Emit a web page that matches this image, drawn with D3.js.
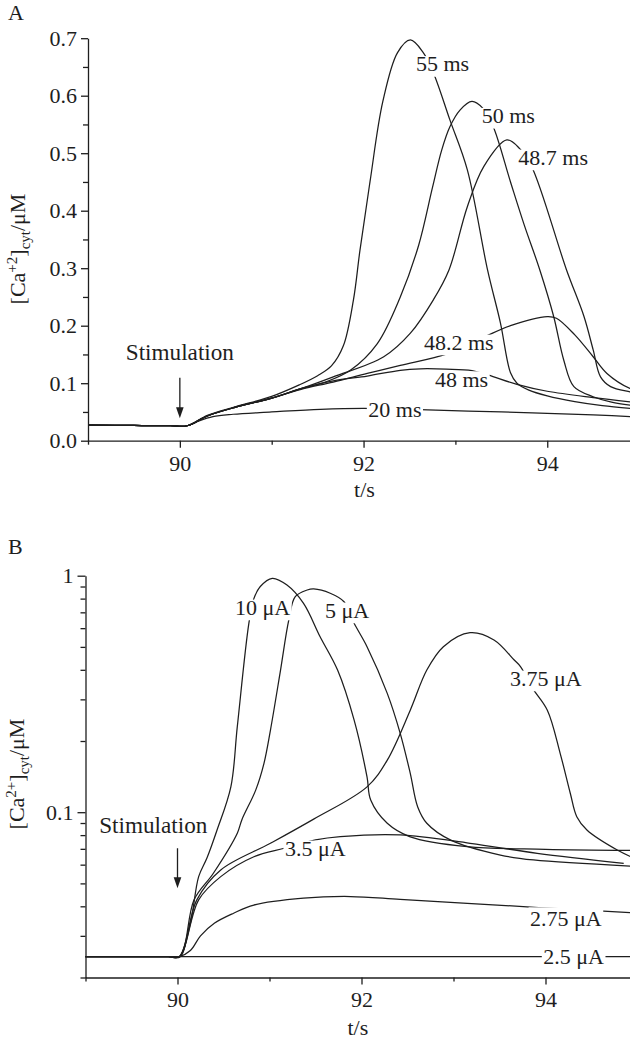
<!DOCTYPE html>
<html><head><meta charset="utf-8">
<script src="https://cdn.jsdelivr.net/npm/d3@7"></script>
<style>
body{margin:0;background:#fff;}
</style></head><body>
<svg id="chart" width="630" height="1043"></svg>
<script>
// ---------- ticks ----------
const timeMajor = [90, 92, 94];
const timeMinor = [89, 91, 93, 95];
const aMajor = [0, 0.1, 0.2, 0.3, 0.4, 0.5, 0.6, 0.7];
const aMinor = [0.05, 0.15, 0.25, 0.35, 0.45, 0.55, 0.65];
const bMajor = [0.1, 1];
const bMinor = [0.02,0.03,0.04,0.05,0.06,0.07,0.08,0.09,0.2,0.3,0.4,0.5,0.6,0.7,0.8,0.9];

// ---------- panel A series: [t (s), Ca (uM)] ----------
const a55 = [[89,0.027],[89.5,0.0265],[89.9,0.026],[90.08,0.026],[90.3,0.044],[90.6,0.059],[91.0,0.077],[91.3,0.097],[91.5,0.113],[91.65,0.13],[91.78,0.165],[91.89,0.245],[91.96,0.33],[92.07,0.45],[92.21,0.59],[92.37,0.675],[92.51,0.697],[92.65,0.675],[92.76,0.64],[92.94,0.558],[93.13,0.471],[93.35,0.297],[93.49,0.205],[93.6,0.118],[93.67,0.1],[93.8,0.088],[94.0,0.078],[94.3,0.068],[94.6,0.061],[95,0.055]];
const a50 = [[89,0.027],[89.5,0.0265],[89.9,0.026],[90.08,0.026],[90.3,0.043],[90.6,0.058],[91.0,0.074],[91.31,0.09],[91.6,0.103],[91.86,0.123],[92.15,0.169],[92.4,0.25],[92.6,0.34],[92.75,0.44],[92.85,0.505],[92.94,0.546],[93.05,0.575],[93.18,0.59],[93.3,0.578],[93.41,0.547],[93.6,0.45],[93.75,0.375],[93.92,0.2965],[94.07,0.216],[94.18,0.14],[94.29,0.094],[94.5,0.0765],[94.7,0.067],[95,0.06]];
const a487 = [[89,0.027],[89.5,0.0265],[89.9,0.026],[90.08,0.026],[90.3,0.043],[90.6,0.058],[91.0,0.074],[91.31,0.09],[91.67,0.111],[92.22,0.146],[92.51,0.187],[92.76,0.245],[92.93,0.297],[93.13,0.407],[93.31,0.477],[93.56,0.523],[93.7,0.508],[93.83,0.477],[94.21,0.297],[94.4,0.216],[94.5,0.158],[94.58,0.111],[94.69,0.094],[94.9,0.085],[95,0.082]];
const a482 = [[89,0.027],[89.5,0.0265],[89.9,0.026],[90.08,0.026],[90.3,0.043],[90.6,0.058],[91.0,0.074],[91.31,0.089],[91.67,0.102],[92.04,0.117],[92.4,0.131],[92.91,0.151],[93.31,0.18],[93.6,0.2],[94.0,0.2157],[94.1,0.213],[94.3,0.184],[94.5,0.146],[94.65,0.117],[94.9,0.091],[95,0.087]];
const a48 = [[89,0.027],[89.5,0.0265],[89.9,0.026],[90.08,0.026],[90.3,0.043],[90.6,0.058],[91.0,0.074],[91.31,0.09],[91.67,0.104],[92.04,0.1125],[92.4,0.1225],[92.62,0.125],[92.9,0.1245],[93.18,0.122],[93.36,0.114],[93.67,0.098],[94.0,0.086],[94.5,0.075],[95,0.066]];
const a20 = [[89,0.027],[89.5,0.0265],[89.9,0.026],[90.08,0.026],[90.2,0.034],[90.36,0.042],[90.58,0.046],[91.0,0.05],[91.53,0.0546],[92.0,0.0563],[92.4,0.055],[92.7,0.0534],[93.5,0.05],[94.0,0.0477],[94.5,0.045],[95,0.041]];
const seriesA = [a55, a50, a487, a482, a48, a20];

// ---------- panel B series: [t (s), Ca (uM)] ----------
const b10 = [[89,0.0245],[89.5,0.0245],[89.9,0.0245],[90.02,0.0245],[90.14,0.0339],[90.23,0.0534],[90.32,0.064],[90.43,0.0841],[90.58,0.128],[90.65,0.23],[90.776,0.63],[90.83,0.8],[90.9,0.9],[91.03,0.975],[91.19,0.913],[91.37,0.764],[91.55,0.552],[91.74,0.399],[91.92,0.245],[92.06,0.141],[92.1,0.1126],[92.28,0.0898],[92.53,0.0787],[93.15,0.0715],[94.0,0.0697],[95,0.069]];
const b5 = [[89,0.0245],[89.5,0.0245],[89.9,0.0245],[90.03,0.0245],[90.18,0.0426],[90.39,0.0552],[90.65,0.0815],[90.7,0.093],[90.85,0.124],[90.94,0.161],[91.01,0.222],[91.12,0.399],[91.21,0.65],[91.28,0.815],[91.41,0.87],[91.48,0.879],[91.66,0.843],[91.81,0.776],[91.92,0.629],[92.06,0.501],[92.28,0.318],[92.42,0.216],[92.53,0.146],[92.61,0.1055],[92.71,0.0898],[92.97,0.0762],[93.51,0.0659],[93.87,0.0628],[95,0.059]];
const b375 = [[89,0.0245],[89.5,0.0245],[89.9,0.0245],[90.02,0.0245],[90.21,0.0426],[90.47,0.057],[91.01,0.0739],[91.48,0.0935],[92.06,0.128],[92.28,0.166],[92.53,0.27],[92.71,0.399],[92.89,0.501],[93.18,0.574],[93.44,0.535],[93.66,0.44],[93.73,0.412],[93.86,0.334],[94.02,0.27],[94.16,0.177],[94.27,0.12],[94.34,0.0957],[94.45,0.0841],[94.78,0.0692],[95,0.063]];
const b35 = [[89,0.0245],[89.5,0.0245],[89.9,0.0245],[90.02,0.0245],[90.23,0.0426],[90.47,0.0534],[90.83,0.0648],[91.16,0.0704],[91.5,0.0763],[91.77,0.0788],[92.42,0.0801],[93.18,0.0739],[93.91,0.067],[94.85,0.0608]];
const b275 = [[89,0.0245],[89.5,0.0245],[89.9,0.0245],[90.02,0.0245],[90.14,0.026],[90.25,0.03],[90.4,0.0339],[90.61,0.0374],[90.83,0.0405],[91.37,0.0433],[91.88,0.044],[92.42,0.0428],[93.15,0.0412],[94.04,0.0393],[95,0.0375]];
const b25 = [[89,0.0245],[95,0.0245]];
const seriesB = [b10, b5, b375, b35, b275, b25];

// ---------- annotations ----------
const labelsA = [
  {text:"55 ms", t:92.571, v:0.6421},
  {text:"50 ms", t:93.286, v:0.552},
  {text:"48.7 ms", t:93.685, v:0.4795},
  {text:"48.2 ms", t:92.658, v:0.1577},
  {text:"48 ms", t:92.778, v:0.0939},
  {text:"20 ms", t:92.052, v:0.0417}
];
const labelsB = [
  {text:"10 μA", t:90.625, v:0.682},
  {text:"5 μA", t:91.603, v:0.6625},
  {text:"3.75 μA", t:93.614, v:0.3417},
  {text:"3.5 μA", t:91.168, v:0.0653},
  {text:"2.75 μA", t:93.832, v:0.03302, top:0.85},
  {text:"2.5 μA", t:93.976, v:0.0228}
];
const stimA = {t:90, textV:0.1403, fromV:0.1096, toV:0.039};
const stimB = {t:90, textT:89.737, textV:0.08166, fromV:0.0704, toV:0.04767};

// ---------- drawing ----------
const FONT = '"Liberation Serif", "Times New Roman", Tinos, Times, serif';
const svg = d3.select("#chart").style("font-family", FONT);
const FS = 22;
const INK = "#1e1e1e";

const xA = d3.scaleLinear().domain([89,95]).range([88,639.1]);
const yA = d3.scaleLinear().domain([0,0.7]).range([440.7,38.2]);
const xB = d3.scaleLinear().domain([89,95]).range([85.5,637.5]);
const yB = d3.scaleLog().domain([0.02,1]).range([977.5,575.7]);

function txt(sel){ return sel.style("font-family", FONT).attr("fill", INK); }

function styleAxis(g){
  g.attr("font-size", FS).attr("font-family", null).style("font-family", FONT);
  g.selectAll("line").attr("stroke", INK).attr("stroke-width", 1.3);
  g.selectAll("path").attr("stroke", INK).attr("stroke-width", 1.3);
  g.selectAll("text").attr("fill", INK).style("font-family", FONT);
}

function drawPanel(x, y, majorY, minorY, fmtY, series, labels, stim, sup, tickPadY, tickPadX, ytitleX, ytitleY, panelLetter, letterY, xtitleT, xtitleY, majY){
  const x0 = x.range()[0], y0 = y.range()[0];
  svg.append("g").attr("transform", `translate(0,${y0})`)
    .call(d3.axisBottom(x).tickValues(timeMinor).tickSize(4).tickSizeOuter(0).tickFormat(""))
    .call(g=>g.select(".domain").remove()).call(styleAxis);
  svg.append("g").attr("transform", `translate(0,${y0})`)
    .call(d3.axisBottom(x).tickValues(timeMajor).tickSize(7).tickSizeOuter(0).tickPadding(tickPadX).tickFormat(d3.format("d")))
    .call(g=>g.select(".domain").attr("d", `M${x0},0.5H640`)).call(styleAxis);
  svg.append("g").attr("transform", `translate(${x0},0)`)
    .call(d3.axisLeft(y).tickValues(minorY).tickSize(5).tickSizeOuter(0).tickFormat(""))
    .call(g=>g.select(".domain").remove()).call(styleAxis);
  svg.append("g").attr("transform", `translate(${x0},0)`)
    .call(d3.axisLeft(y).tickValues(majorY).tickSize(majY).tickSizeOuter(0).tickPadding(tickPadY).tickFormat(fmtY))
    .call(styleAxis);

  const line = d3.line().x(d=>x(d[0])).y(d=>y(d[1])).curve(d3.curveCatmullRom.alpha(0.5));
  svg.append("g").selectAll("path").data(series).join("path")
    .attr("d", line).attr("fill","none").attr("stroke", INK).attr("stroke-width",1.25)
    .attr("stroke-linejoin","round");

  const lg = svg.append("g");
  labels.forEach(l=>{
    const px = x(l.t), py = y(l.v);
    const r = lg.append("rect").attr("fill","#fff");
    const t = lg.append("text").attr("x", px).attr("y", py).attr("font-size", FS).call(txt).text(l.text);
    const w = t.node().getComputedTextLength();
    const top = (l.top || 0.7) * FS;
    r.attr("x", px-1.5).attr("width", w+3).attr("y", py-top).attr("height", top+0.24*FS);
  });

  const sx = x(stim.t);
  svg.append("text").attr("x", stim.textT ? x(stim.textT) : sx).attr("y", y(stim.textV))
    .attr("text-anchor","middle").attr("font-size",23.2).call(txt).text("Stimulation");
  const ya = y(stim.fromV), yb = y(stim.toV);
  svg.append("line").attr("x1",sx).attr("x2",sx).attr("y1",ya).attr("y2",yb-8)
    .attr("stroke",INK).attr("stroke-width",1.3);
  svg.append("path").attr("d",`M${sx-3.8},${yb-11}L${sx+3.8},${yb-11}L${sx},${yb}Z`).attr("fill",INK);

  const yt = svg.append("text").attr("transform",`translate(${ytitleX},${ytitleY}) rotate(-90)`)
    .attr("text-anchor","middle").attr("font-size",FS).call(txt);
  yt.append("tspan").text("[Ca");
  yt.append("tspan").attr("dy",-8).attr("font-size",15).text(sup);
  yt.append("tspan").attr("dy",8).text("]");
  yt.append("tspan").attr("dy",5).attr("font-size",15).text("cyt");
  yt.append("tspan").attr("dy",-5).text("/μM");

  svg.append("text").attr("x", x(xtitleT)).attr("y", xtitleY).attr("text-anchor","middle")
    .attr("font-size",FS).call(txt).text("t/s");

  svg.append("text").attr("x",8).attr("y",letterY).attr("font-size",FS).call(txt).text(panelLetter);
}

drawPanel(xA, yA, aMajor, aMinor, d3.format(".1f"), seriesA, labelsA, stimA,
  "+2", 4, 8, 25, 249, "A", 20, 92.01, 496.5, 7);
drawPanel(xB, yB, bMajor, bMinor, d=> d===1 ? "1" : "0.1", seriesB, labelsB, stimB,
  "2+", 4, 7, 24, 774, "B", 554, 91.96, 1035, 8);
</script>
</body></html>
